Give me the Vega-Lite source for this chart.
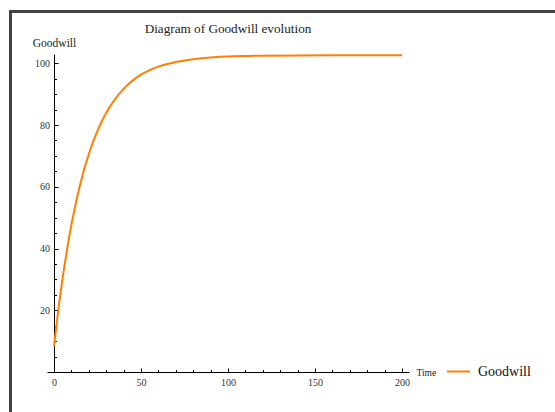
{
  "$schema": "https://vega.github.io/schema/vega-lite/v6.json",
  "width": 362,
  "height": 318,
  "autosize": "none",
  "padding": {"left": 47, "top": 54, "right": 146, "bottom": 40},
  "background": "white",
  "config": {"view": {"stroke": null}},
  "title": {
    "text": "Diagram of Goodwill evolution",
    "font": "Liberation Serif",
    "fontSize": 13.2,
    "fontWeight": "normal",
    "color": "#222222",
    "anchor": "middle",
    "frame": "group",
    "offset": -26
  },
  "data": {
    "values": [
      {"t": 0, "g": 8.2},
      {"t": 2.5, "g": 20.1},
      {"t": 5, "g": 30.5},
      {"t": 7.5, "g": 39.6},
      {"t": 10, "g": 47.6},
      {"t": 12.5, "g": 54.5},
      {"t": 15, "g": 60.6},
      {"t": 17.5, "g": 65.9},
      {"t": 20, "g": 70.5},
      {"t": 22.5, "g": 74.6},
      {"t": 25, "g": 78.1},
      {"t": 27.5, "g": 81.2},
      {"t": 30, "g": 83.9},
      {"t": 35, "g": 88.3},
      {"t": 40, "g": 91.7},
      {"t": 45, "g": 94.3},
      {"t": 50, "g": 96.3},
      {"t": 55, "g": 97.8},
      {"t": 60, "g": 98.9},
      {"t": 70, "g": 100.4},
      {"t": 80, "g": 101.3},
      {"t": 90, "g": 101.9},
      {"t": 100, "g": 102.2},
      {"t": 120, "g": 102.45},
      {"t": 140, "g": 102.55},
      {"t": 160, "g": 102.58},
      {"t": 200, "g": 102.6}
    ]
  },
  "resolve": {"axis": {"x": "independent", "y": "independent"}},
  "layer": [
    {
      "mark": {"type": "rect", "fill": null, "stroke": "#444444", "strokeWidth": 2, "clip": false},
      "encoding": {
        "x": {
          "datum": -25.0,
          "type": "quantitative",
          "scale": {"domain": [-4, 204], "nice": false, "zero": false},
          "axis": {
            "orient": "bottom",
            "values": [0, 10, 20, 30, 40, 60, 70, 80, 90, 110, 120, 130, 140, 160, 170, 180, 190],
            "labels": false,
            "domain": false,
            "grid": false,
            "title": null,
            "tickColor": "#000000",
            "tickWidth": 1,
            "tickSize": -2.5
          }
        },
        "x2": {"datum": 400},
        "y": {
          "datum": 116.8,
          "type": "quantitative",
          "scale": {"domain": [0, 103], "nice": false, "zero": false},
          "axis": {
            "orient": "left",
            "offset": -7,
            "values": [5, 10, 15, 25, 30, 35, 45, 50, 55, 65, 70, 75, 85, 90, 95],
            "labels": false,
            "domain": false,
            "grid": false,
            "title": null,
            "tickColor": "#000000",
            "tickWidth": 1,
            "tickSize": -2.5
          }
        },
        "y2": {"datum": -30}
      }
    },
    {
      "mark": {"type": "line", "strokeWidth": 2, "interpolate": "monotone", "clip": false},
      "encoding": {
        "x": {
          "field": "t",
          "type": "quantitative",
          "scale": {"domain": [-4, 204], "nice": false, "zero": false},
          "axis": {
            "orient": "bottom",
            "values": [0, 50, 100, 150, 200],
            "grid": false,
            "domainColor": "#000000",
            "domainWidth": 1,
            "tickColor": "#000000",
            "tickWidth": 1,
            "tickSize": -4,
            "labelPadding": 9,
            "labelFont": "Liberation Serif",
            "labelFontSize": 10,
            "labelColor": "#333333",
            "labelFlush": false,
            "labelOverlap": false,
            "title": "Time",
            "titleFont": "Liberation Serif",
            "titleFontSize": 9.5,
            "titleFontWeight": "normal",
            "titleColor": "#222222",
            "titleAlign": "left",
            "titleBaseline": "middle",
            "titleAnchor": null,
            "titleX": 369,
            "titleY": 0
          }
        },
        "y": {
          "field": "g",
          "type": "quantitative",
          "scale": {"domain": [0, 103], "nice": false, "zero": false},
          "axis": {
            "orient": "left",
            "values": [20, 40, 60, 80, 100],
            "offset": -7,
            "grid": false,
            "domainColor": "#000000",
            "domainWidth": 1,
            "tickColor": "#000000",
            "tickWidth": 1,
            "tickSize": -4,
            "labelPadding": 8.5,
            "labelFont": "Liberation Serif",
            "labelFontSize": 10,
            "labelColor": "#333333",
            "labelFlush": false,
            "labelOverlap": false,
            "title": "Goodwill",
            "titleFont": "Liberation Serif",
            "titleFontSize": 11.5,
            "titleFontWeight": "normal",
            "titleColor": "#222222",
            "titleAngle": 0,
            "titleAlign": "center",
            "titleBaseline": "middle",
            "titleAnchor": null,
            "titleX": 0,
            "titleY": -11
          }
        },
        "color": {
          "datum": "Goodwill",
          "type": "nominal",
          "scale": {"range": ["#FF8000"]},
          "legend": {
            "title": null,
            "orient": "none",
            "legendX": 399,
            "legendY": 305,
            "padding": 0,
            "symbolType": "stroke",
            "symbolSize": 529,
            "symbolStrokeWidth": 2,
            "labelOffset": 7,
            "labelFont": "Liberation Serif",
            "labelFontSize": 14,
            "labelColor": "#111111"
          }
        }
      }
    }
  ]
}
